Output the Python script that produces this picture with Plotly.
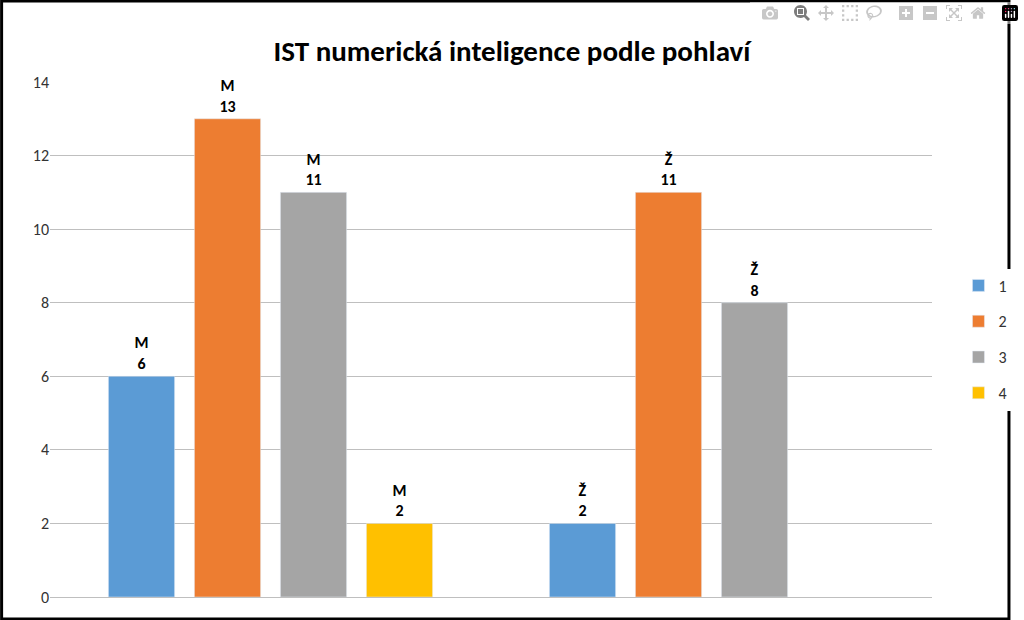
import plotly.graph_objects as go

groups = ["M", "Ž"]
series = ["1", "2", "3", "4"]
values = {"1": [6, 2], "2": [13, 11], "3": [11, 8], "4": [2, None]}
colors = {"1": "#5B9BD5", "2": "#ED7D31", "3": "#A5A5A5", "4": "#FFC000"}

FONT = "Carlito, Calibri, Lato, Liberation Sans, Arial"
fig = go.Figure()
for s in series:
    vals = values[s]
    txt = [f"{g}<br>{v}" if v is not None else "" for g, v in zip(groups, vals)]
    fig.add_trace(go.Bar(x=groups, y=vals, name=s, marker_color=colors[s], legendgroup=s,
                         text=txt, textposition="outside", cliponaxis=False,
                         textfont=dict(family=FONT, size=16, color="black", weight="bold")))

W, H = 1024, 620
ml, mr, mt, mb = 50, 79, 82, 23
pw, ph = W - ml - mr, H - mt - mb
fig.update_layout(
    width=W, height=H, barmode="group", bargap=0.22, bargroupgap=0.23,
    plot_bgcolor="white", paper_bgcolor="white",
    margin=dict(l=ml, r=mr, t=mt, b=mb),
    title=dict(text="<b>IST numerická inteligence podle pohlaví</b>", x=0.5, xanchor="center", y=0.935,
               font=dict(family=FONT, size=29, color="black")),
    font=dict(family=FONT, size=16, color="#333"),
    xaxis=dict(showticklabels=False, showline=True, linecolor="#bfbfbf", ticks=""),
    yaxis=dict(range=[0, 14], dtick=2, showgrid=True, gridcolor="#bfbfbf", zeroline=False, ticks="",
               tickfont=dict(size=16, color="#333")),
    legend=dict(x=1.03, y=0.5, yanchor="middle", xanchor="left", font=dict(size=16, color="#333"),
                tracegroupgap=12),
    shapes=[dict(type="rect", xref="paper", yref="paper",
                 x0=-ml / pw + 0.001, x1=1 + mr / pw - 0.001,
                 y0=-mb / ph + 0.002, y1=1 + mt / ph - 0.002,
                 line=dict(color="black", width=3))],
)
fig.write_html("out.html", post_script="document.body.style.margin='0';document.body.style.overflow='hidden';")
